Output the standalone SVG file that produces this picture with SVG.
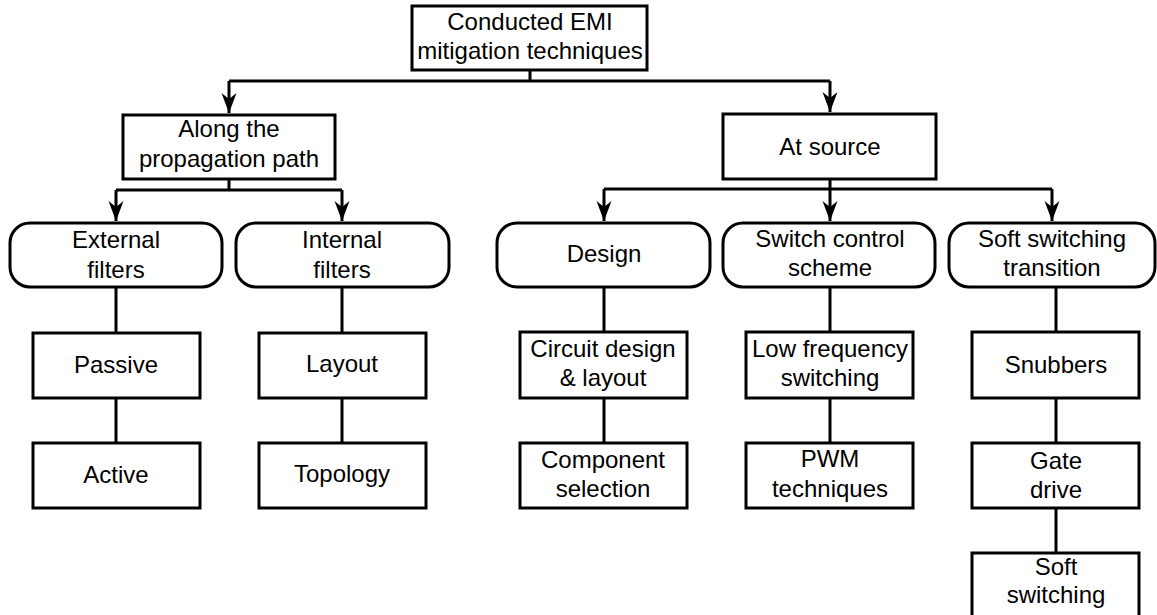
<svg xmlns="http://www.w3.org/2000/svg" width="1157" height="615" viewBox="0 0 1157 615">
<style>
.box{fill:#fff;stroke:#000;stroke-width:3}
.t{font-family:"Liberation Sans",Arial,sans-serif;font-size:24px;fill:#000;text-anchor:middle}
.ln{fill:none;stroke:#000;stroke-width:3}
</style>
<defs>
<marker id="arr" markerUnits="userSpaceOnUse" markerWidth="22" markerHeight="18" viewBox="-21 -9 22 18" refX="0" refY="0" orient="auto" overflow="visible">
<path d="M0,0 L-20,-7.5 L-14,0 L-20,7.5 Z" fill="#000"/>
</marker>
</defs>
<rect width="1157" height="615" fill="#fff"/>
<g id="connectors">
<path class="ln" d="M530,70 V81 M229,81 H830"/>
<path class="ln" d="M229,81 V113" marker-end="url(#arr)"/>
<path class="ln" d="M830,81 V112" marker-end="url(#arr)"/>
<path class="ln" d="M229,180 V190 M116,190 H342"/>
<path class="ln" d="M116,190 V221" marker-end="url(#arr)"/>
<path class="ln" d="M342,190 V221" marker-end="url(#arr)"/>
<path class="ln" d="M830,179 V189 M604,189 H1052"/>
<path class="ln" d="M604,189 V221" marker-end="url(#arr)"/>
<path class="ln" d="M830,189 V221" marker-end="url(#arr)"/>
<path class="ln" d="M1052,189 V221" marker-end="url(#arr)"/>
<path class="ln" d="M116,287 V333 M116,398 V443"/>
<path class="ln" d="M342,287 V333 M342,398 V443"/>
<path class="ln" d="M604,287 V332 M604,398 V443"/>
<path class="ln" d="M830,287 V332 M830,398 V443"/>
<path class="ln" d="M1056,287 V332 M1056,398 V443 M1056,508 V553"/>
</g>
<g id="root"><rect class="box" x="412" y="6" width="235" height="64"/><text class="t" x="530" y="30">Conducted EMI</text><text class="t" x="530" y="59">mitigation techniques</text></g>
<g id="along"><rect class="box" x="123" y="115" width="212" height="64"/><text class="t" x="229" y="137">Along the</text><text class="t" x="229" y="167">propagation path</text></g>
<g id="atsource"><rect class="box" x="723" y="114" width="213" height="65"/><text class="t" x="830" y="155">At source</text></g>
<g id="external"><rect class="box" x="10" y="223" width="212" height="64" rx="20"/><text class="t" x="116" y="248">External</text><text class="t" x="116" y="278">filters</text></g>
<g id="internal"><rect class="box" x="236" y="223" width="213" height="64" rx="20"/><text class="t" x="342" y="248">Internal</text><text class="t" x="342" y="278">filters</text></g>
<g id="design"><rect class="box" x="497" y="223" width="213" height="64" rx="20"/><text class="t" x="604" y="262">Design</text></g>
<g id="switchcontrol"><rect class="box" x="723" y="223" width="212" height="64" rx="20"/><text class="t" x="830" y="247">Switch control</text><text class="t" x="830" y="276">scheme</text></g>
<g id="softtransition"><rect class="box" x="949" y="223" width="206" height="64" rx="20"/><text class="t" x="1052" y="247">Soft switching</text><text class="t" x="1052" y="276">transition</text></g>
<g id="passive"><rect class="box" x="33" y="333" width="167" height="65"/><text class="t" x="116" y="373">Passive</text></g>
<g id="active"><rect class="box" x="33" y="443" width="167" height="65"/><text class="t" x="116" y="483">Active</text></g>
<g id="layout"><rect class="box" x="259" y="333" width="167" height="65"/><text class="t" x="342" y="372">Layout</text></g>
<g id="topology"><rect class="box" x="259" y="443" width="167" height="65"/><text class="t" x="342" y="482">Topology</text></g>
<g id="circuit"><rect class="box" x="520" y="332" width="167" height="66"/><text class="t" x="603" y="357">Circuit design</text><text class="t" x="603" y="386">&amp; layout</text></g>
<g id="component"><rect class="box" x="520" y="443" width="167" height="65"/><text class="t" x="603" y="468">Component</text><text class="t" x="603" y="497">selection</text></g>
<g id="lowfreq"><rect class="box" x="746" y="332" width="167" height="66"/><text class="t" x="830" y="357">Low frequency</text><text class="t" x="830" y="386">switching</text></g>
<g id="pwm"><rect class="box" x="746" y="443" width="167" height="65"/><text class="t" x="830" y="467">PWM</text><text class="t" x="830" y="497">techniques</text></g>
<g id="snubbers"><rect class="box" x="972" y="332" width="167" height="66"/><text class="t" x="1056" y="373">Snubbers</text></g>
<g id="gatedrive"><rect class="box" x="972" y="443" width="167" height="65"/><text class="t" x="1056" y="469">Gate</text><text class="t" x="1056" y="498">drive</text></g>
<g id="softswitching"><rect class="box" x="972" y="553" width="167" height="70"/><text class="t" x="1056" y="575">Soft</text><text class="t" x="1056" y="603">switching</text></g>
</svg>
